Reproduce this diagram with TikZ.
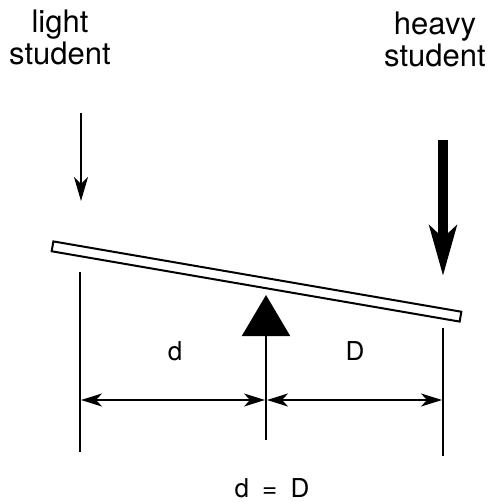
\documentclass[tikz,border=0pt]{standalone}
\usepackage{fontspec}
\setmainfont{TeX Gyre Heros}
\usetikzlibrary{arrows.meta,positioning}

\begin{document}
\begin{tikzpicture}[x=1pt, y=-1pt,
  label/.style={align=center, inner sep=0pt, font=\fontsize{31}{32}\selectfont},
  dim/.style={font=\fontsize{26}{28}\selectfont, inner sep=0pt},
  thin line/.style={line width=2pt},
  dimarrow/.style={line width=2pt, {Stealth[length=21pt,width=13pt,inset=6pt]}-{Stealth[length=21pt,width=13pt,inset=6pt]}}]
  \useasboundingbox (0,0) rectangle (492,502);
  % students and their weights
  \node[label, anchor=base] (light) at (60,65) {light\\student};
  \node[label, anchor=base] (heavy) at (435,67) {heavy\\student};
  \coordinate (lighttop) at (81,113);
  \coordinate (lighttip) at (81,201);
  \coordinate (heavytop) at (443,140);
  \coordinate (heavytip) at (443,276);
  \draw[thin line, -{Stealth[length=24pt,width=14pt,inset=7pt]}] (lighttop) -- (lighttip);
  \draw[line width=10pt, -{Stealth[length=50pt,width=27pt,inset=12pt]}] (heavytop) -- (heavytip);
  % the see-saw and its pivot
  \node[draw, thin line, fill=white, inner sep=0pt, minimum width=414pt, minimum height=10pt, rotate=-9.78] (plank) at (256.5,281.5) {};
  \coordinate (pivotbase) at (266,440);
  \coordinate (pivottip) at (266,295);
  \draw[thin line, -{Triangle[length=41pt,width=48pt]}] (pivotbase) -- (pivottip);
  % extension lines and distances
  \coordinate (lefttop) at (80,272);
  \coordinate (leftbot) at (80,452);
  \coordinate (righttop) at (443,328);
  \coordinate (rightbot) at (443,456);
  \draw[thin line] (lefttop) -- (leftbot);
  \draw[thin line] (righttop) -- (rightbot);
  \coordinate (dleft) at (81,400);
  \coordinate (dmid) at (265,400);
  \coordinate (Dmid) at (267,400);
  \coordinate (Dright) at (442,400);
  \draw[dimarrow] (dleft) -- (dmid);
  \draw[dimarrow] (Dmid) -- (Dright);
  \node[dim] (dlabel) at (175,351) {d};
  \node[dim] (Dlabel) at (355,351) {D};
  \node[dim, anchor=base] (equal) at (272,497) {d\hspace{6pt} = \hspace{6pt}D};
\end{tikzpicture}
\end{document}
